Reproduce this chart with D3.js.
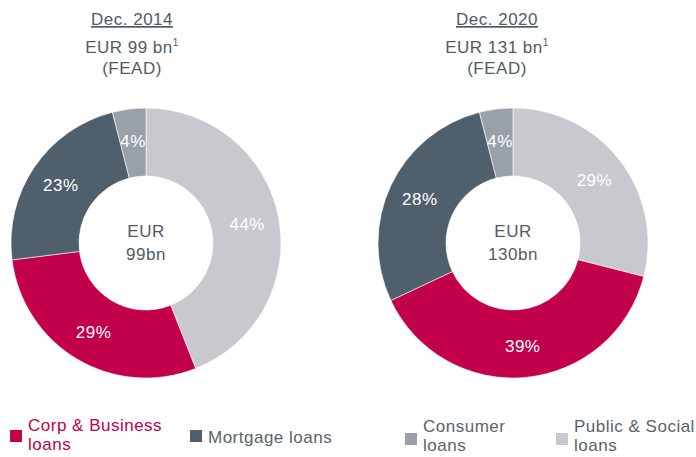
<!DOCTYPE html>
<html>
<head>
<meta charset="utf-8">
<script src="https://cdn.jsdelivr.net/npm/d3@7/dist/d3.min.js"></script>
<style>
  body { margin: 0; background: #fff; }
  text { font-family: "Liberation Sans", Arial, sans-serif; letter-spacing: 0.5px; }
</style>
</head>
<body>
<script>
// categories, clockwise from 12 o'clock
var categories = ["Public & Social loans", "Corp & Business loans", "Mortgage loans", "Consumer loans"];
var shares2014 = [44, 29, 23, 4];
var shares2020 = [29, 39, 28, 4];
var periods = ["Dec. 2014", "Dec. 2020"];
var totalsFead = ["EUR 99 bn", "EUR 131 bn"];
var centreLabels = ["99bn", "130bn"];

// legend order as in the picture
var legendItems = [
  {key: "Corp & Business loans", lines: ["Corp & Business", "loans"]},
  {key: "Mortgage loans", lines: ["Mortgage loans"]},
  {key: "Consumer loans", lines: ["Consumer", "loans"]},
  {key: "Public & Social loans", lines: ["Public & Social", "loans"]}
];

var width = 696, height = 457;
var textCol = "#4f5b66";
var fs = "17px";

var color = d3.scaleOrdinal()
    .domain(categories)
    .range(["#c9c8ce", "#c3004a", "#4f5f6c", "#9aa0aa"]);

var svg = d3.select("body").append("svg")
    .attr("width", width)
    .attr("height", height);

var outerR = 135, innerR = 67;
var arc = d3.arc().innerRadius(innerR).outerRadius(outerR);
var pie = d3.pie().sort(null).value(function(d) { return d.v; });

var donuts = [
  {cx: 146, cy: 243, tx: 132, data: shares2014, i: 0},
  {cx: 513, cy: 243, tx: 497, data: shares2020, i: 1}
];

donuts.forEach(function(dn) {
  var rows = categories.map(function(c, k) { return {cat: c, v: dn.data[k]}; });

  // headings
  var head = svg.append("g").attr("text-anchor", "middle").style("fill", textCol);
  head.append("text")
      .attr("x", dn.tx).attr("y", 25)
      .style("font-size", fs)
      .style("text-decoration", "underline")
      .text(periods[dn.i]);
  var t = head.append("text")
      .attr("x", dn.tx).attr("y", 53)
      .style("font-size", fs)
      .text(totalsFead[dn.i]);
  t.append("tspan").attr("dy", -7).style("font-size", "10px").text("1");
  head.append("text")
      .attr("x", dn.tx).attr("y", 74)
      .style("font-size", fs)
      .text("(FEAD)");

  var g = svg.append("g")
      .attr("transform", "translate(" + dn.cx + "," + dn.cy + ")");

  g.selectAll("path")
      .data(pie(rows))
    .enter().append("path")
      .attr("d", arc)
      .style("fill", function(d) { return color(d.data.cat); })
      .style("stroke", "#fff")
      .style("stroke-width", 0.6);

  g.selectAll(".pct")
      .data(pie(rows))
    .enter().append("text")
      .attr("class", "pct")
      .attr("transform", function(d) {
        var c = arc.centroid(d);
        var s = 1.02;
        return "translate(" + c[0] * s + "," + c[1] * s + ")";
      })
      .attr("dy", "0.35em")
      .attr("text-anchor", "middle")
      .style("fill", "#fff")
      .style("font-size", fs)
      .text(function(d) { return d.data.v + "%"; });

  // centre text
  g.append("text")
      .attr("y", -6)
      .attr("text-anchor", "middle")
      .style("fill", textCol)
      .style("font-size", fs)
      .text("EUR");
  g.append("text")
      .attr("y", 17)
      .attr("text-anchor", "middle")
      .style("fill", textCol)
      .style("font-size", fs)
      .text(centreLabels[dn.i]);
});

// legend
var legendX = [10, 190, 405, 556];
var legendSqY = [430, 430, 433, 433];
var legend = svg.selectAll(".legend")
    .data(legendItems)
  .enter().append("g")
    .attr("class", "legend")
    .attr("transform", function(d, i) { return "translate(" + legendX[i] + "," + legendSqY[i] + ")"; });

legend.append("rect")
    .attr("width", 12)
    .attr("height", 12)
    .style("fill", function(d) { return color(d.key); });

legend.append("text")
    .attr("x", 18)
    .style("font-size", fs)
    .style("fill", function(d) { return d.key === "Corp & Business loans" ? "#c3004a" : "#59636d"; })
    .each(function(d, i) {
      var el = d3.select(this);
      var y0 = d.lines.length > 1 ? (i === 0 ? 1 : -1) : 13;
      d.lines.forEach(function(line, k) {
        el.append("tspan").attr("x", 18).attr("y", y0 + k * 19).text(line);
      });
    });
</script>
</body>
</html>
